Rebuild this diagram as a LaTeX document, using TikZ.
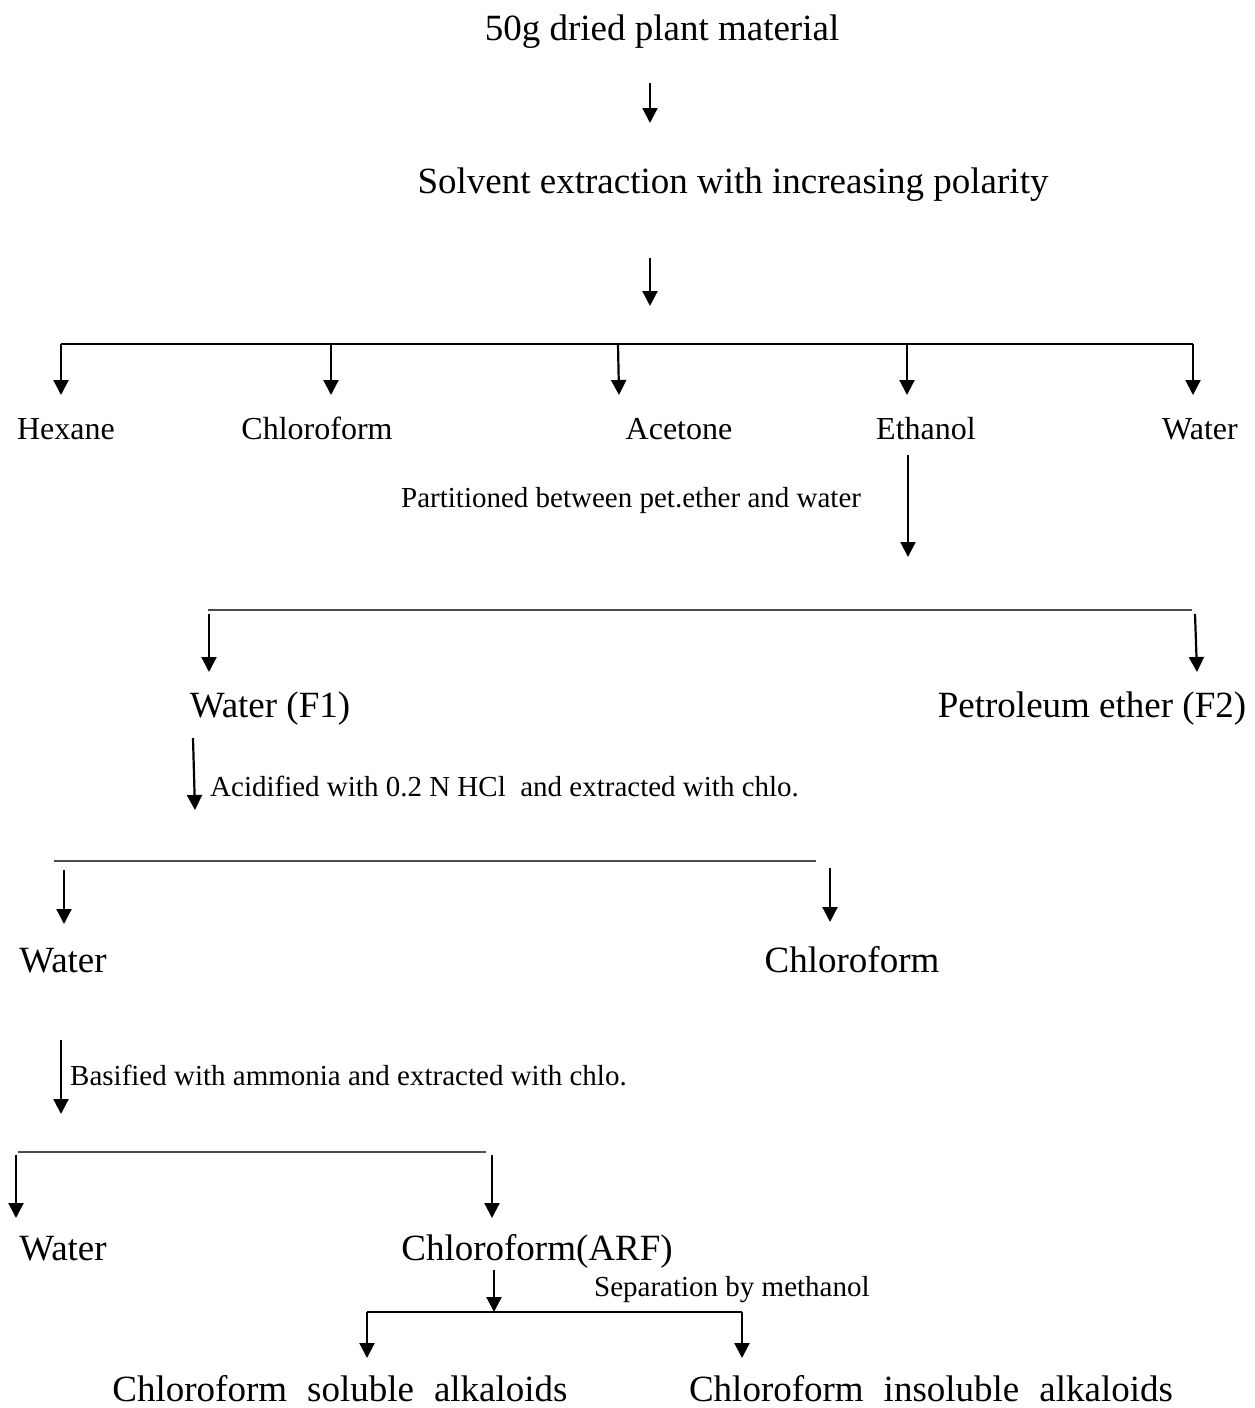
\documentclass[tikz,border=0pt]{standalone}
\usepackage{fontspec}
\setmainfont{Liberation Serif}
\usetikzlibrary{arrows.meta}

\begin{document}
\begin{tikzpicture}[x=1pt,y=-1pt]
				    \tikzstyle{flow}=[draw,line width=2.2pt,-{Triangle[length=15pt,width=15pt]},black]
				    \tikzstyle{bar}=[draw,line width=2.2pt,-,black]
				    \tikzstyle{rule}=[draw,line width=1.5pt,-,black!70]
				    \tikzstyle{big}=[inner sep=0pt,anchor=base,font=\fontsize{37}{40}\selectfont]
				    \tikzstyle{mid}=[inner sep=0pt,anchor=base,font=\fontsize{32}{36}\selectfont]
				    \tikzstyle{note}=[inner sep=0pt,anchor=base west,font=\fontsize{29}{32}\selectfont]
				    \useasboundingbox (0,0) rectangle (1254,1408);
				    % texts
				    \node[big] (plant) at (662,40) {50g dried plant material};
				    \node[big] (solvent) at (733,193) {Solvent extraction with increasing polarity};
				    \node[mid] (hexane) at (66,439) {Hexane};
				    \node[mid] (chloro) at (317,439) {Chloroform};
				    \node[mid] (acetone) at (679,439) {Acetone};
				    \node[mid] (ethanol) at (926,439) {Ethanol};
				    \node[mid] (water) at (1200,439) {Water};
				    \node[note] (part) at (401,507) {Partitioned between pet.ether and water};
				    \node[big] (wf1) at (270,717) {Water (F1)};
				    \node[big] (pf2) at (1092,717) {Petroleum ether (F2)};
				    \node[note] (acid) at (210,796) {Acidified with 0.2 N HCl\ \ and extracted with chlo.};
				    \node[big] (wat2) at (63,972) {Water};
				    \node[big] (chl2) at (852,972) {Chloroform};
				    \node[note] (basif) at (70,1085) {Basified with ammonia and extracted with chlo.};
				    \node[big] (wat3) at (63,1260) {Water};
				    \node[big] (arf) at (537,1260) {Chloroform(ARF)};
				    \node[note] (sep) at (594,1296) {Separation by methanol};
				    \node[big] (sol) at (340,1401) {Chloroform\hspace{20pt}soluble\hspace{20pt}alkaloids};
				    \node[big] (insol) at (931,1401) {Chloroform\hspace{20pt}insoluble\hspace{20pt}alkaloids};
				    % arrow ends
				    \coordinate (a1) at (650,83);   \coordinate (b1) at (650,123);
				    \coordinate (a2) at (650,258);  \coordinate (b2) at (650,306);
				    \coordinate (l1) at (61,344);   \coordinate (r1) at (1193,344);
				    \coordinate (m1) at (331,344);  \coordinate (m2) at (618,344);
				    \coordinate (m3) at (907,344);
				    \coordinate (a3) at (908,455);  \coordinate (b3) at (908,557);
				    \coordinate (l2) at (208,610);  \coordinate (r2) at (1192,610);
				    \coordinate (a4) at (193,738);  \coordinate (b4) at (195,810);
				    \coordinate (l3) at (54,861);   \coordinate (r3) at (816,861);
				    \coordinate (a5) at (61,1040);  \coordinate (b5) at (61,1114);
				    \coordinate (l4) at (18,1152);  \coordinate (r4) at (486,1152);
				    \coordinate (a6) at (494,1270); \coordinate (b6) at (494,1312);
				    \coordinate (l5) at (367,1312); \coordinate (r5) at (742,1312);
				    % plant to solvent
				    \draw[flow] (a1) -- (b1);
				    \draw[flow] (a2) -- (b2);
				    % five solvents
				    \draw[bar] (l1) -- (r1);
				    \draw[flow] (l1) -- ++(0,51);
				    \draw[flow] (m1) -- ++(0,51);
				    \draw[flow] (m2) -- ++(1,51);
				    \draw[flow] (m3) -- ++(0,51);
				    \draw[flow] (r1) -- ++(0,51);
				    % ethanol partition
				    \draw[flow] (a3) -- (b3);
				    \draw[rule] (l2) -- (r2);
				    \draw[flow] (209,614) -- (209,672);
				    \draw[flow] (1195,614) -- (1197,672);
				    % acidified
				    \draw[flow] (a4) -- (b4);
				    \draw[rule] (l3) -- (r3);
				    \draw[flow] (64,870) -- (64,924);
				    \draw[flow] (830,868) -- (830,922);
				    % basified
				    \draw[flow] (a5) -- (b5);
				    \draw[rule] (l4) -- (r4);
				    \draw[flow] (16,1155) -- (16,1218);
				    \draw[flow] (492,1155) -- (492,1218);
				    % methanol
				    \draw[flow] (a6) -- (b6);
				    \draw[bar] (l5) -- (r5);
				    \draw[flow] (l5) -- ++(0,46);
				    \draw[flow] (r5) -- ++(0,46);
				\end{tikzpicture}
\end{document}
